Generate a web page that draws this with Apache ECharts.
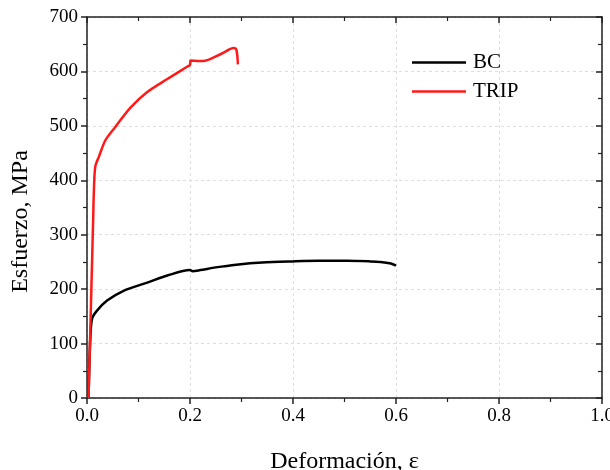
<!DOCTYPE html>
<html><head><meta charset="utf-8">
<script src="https://cdn.jsdelivr.net/npm/echarts@6/dist/echarts.min.js"></script>
<style>html,body{margin:0;padding:0;background:#fff}#c{width:610px;height:470px}</style>
</head><body><div id="c"></div>
<script>
const bcX = [0.003, 0.006, 0.0097, 0.019, 0.039, 0.071, 0.117, 0.156, 0.200, 0.205, 0.220, 0.250, 0.290, 0.340, 0.400, 0.450, 0.505, 0.550, 0.570, 0.590, 0.600];
const bcY = [0, 100, 145, 160, 179, 197, 212, 225, 235, 233, 235, 240, 245, 249, 251, 252, 252, 251, 250, 247, 243];
const tripX = [0.003, 0.012, 0.013, 0.016, 0.023, 0.036, 0.055, 0.084, 0.117, 0.156, 0.195, 0.200, 0.201, 0.225, 0.260, 0.285, 0.290, 0.293];
const tripY = [0, 330, 369, 425, 443, 474, 498, 533, 562, 586, 609, 612, 620, 619, 632, 643, 640, 613];
const xTicks = ['0.0', '0.2', '0.4', '0.6', '0.8', '1.0'];
const yTicks = ['0', '100', '200', '300', '400', '500', '600', '700'];
const seriesNames = ['BC', 'TRIP'];

const font = '"Liberation Serif", "Times New Roman", serif';
const axisCol = '#222';
const zip = (xs, ys) => xs.map((x, i) => [x, ys[i]]);

const chart = echarts.init(document.getElementById('c'));
const lineSt = { show: true, onZero: false, lineStyle: { color: axisCol, width: 1.5 } };
const minor = { show: true, splitNumber: 2, length: 4, lineStyle: { color: axisCol, width: 1.2 } };
const grid = { show: true, lineStyle: { color: '#dedede', type: [3, 3], width: 1 } };
chart.setOption({
  animation: false,
  backgroundColor: '#fff',
  grid: { left: 87, right: 8, top: 17, bottom: 72, containLabel: false, outerBoundsMode: 'none' },
  legend: {
    left: 407, top: 47, orient: 'vertical', itemGap: 8,
    itemWidth: 54, itemHeight: 2.5, icon: 'rect',
    textStyle: { fontFamily: font, fontSize: 21, color: '#000', padding: [0, 0, 0, 2] },
    data: seriesNames
  },
  xAxis: [
    {
      type: 'value', min: 0, max: 1, interval: 0.2, position: 'bottom',
      name: 'Deformación, ε', nameLocation: 'middle', nameGap: 52,
      nameTextStyle: { fontFamily: font, fontSize: 24, color: '#000' },
      axisLine: lineSt, minorTick: minor,
      axisTick: { show: true, inside: false, length: 6, lineStyle: { color: axisCol, width: 1.5 } },
      axisLabel: { fontFamily: font, fontSize: 19, color: '#000', margin: 9,
        formatter: v => xTicks[Math.round(v / 0.2)] },
      splitLine: grid
    },
    {
      type: 'value', min: 0, max: 1, interval: 0.2, position: 'top',
      axisLine: lineSt, minorTick: minor,
      axisTick: { show: true, inside: true, length: 6, lineStyle: { color: axisCol, width: 1.5 } },
      axisLabel: { show: false }, splitLine: { show: false }
    }
  ],
  yAxis: [
    {
      type: 'value', min: 0, max: 700, interval: 100, position: 'left',
      name: 'Esfuerzo, MPa', nameLocation: 'middle', nameGap: 54,
      nameTextStyle: { fontFamily: font, fontSize: 24, color: '#000', padding: [0, 28, 0, 0] },
      axisLine: lineSt, minorTick: minor,
      axisTick: { show: true, inside: false, length: 6, lineStyle: { color: axisCol, width: 1.5 } },
      axisLabel: { fontFamily: font, fontSize: 19, color: '#000', margin: 9,
        formatter: v => yTicks[Math.round(v / 100)] },
      splitLine: grid
    },
    {
      type: 'value', min: 0, max: 700, interval: 100, position: 'right',
      axisLine: lineSt, minorTick: minor,
      axisTick: { show: true, inside: true, length: 6, lineStyle: { color: axisCol, width: 1.5 } },
      axisLabel: { show: false }, splitLine: { show: false }
    }
  ],
  series: [
    { name: seriesNames[0], type: 'line', data: zip(bcX, bcY), showSymbol: false, symbol: 'none',
      smooth: 0.3, lineStyle: { color: '#000', width: 2.5 }, itemStyle: { color: '#000' } },
    { name: seriesNames[1], type: 'line', data: zip(tripX, tripY), showSymbol: false, symbol: 'none',
      smooth: 0.3, lineStyle: { color: '#ff1a1a', width: 2.5 }, itemStyle: { color: '#ff1a1a' } }
  ]
});
</script></body></html>
